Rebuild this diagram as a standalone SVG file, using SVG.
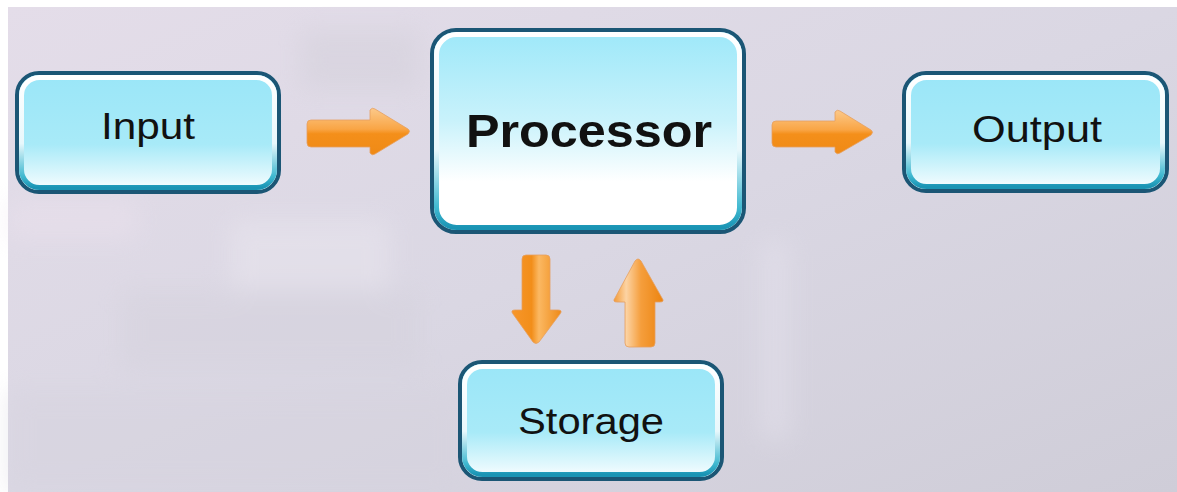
<svg xmlns="http://www.w3.org/2000/svg" width="1177" height="492" viewBox="0 0 1177 492">
<defs>
<linearGradient id="bg" x1="0" y1="0" x2="1" y2="1">
<stop offset="0" stop-color="#e4dde9"/>
<stop offset="0.5" stop-color="#dad7e3"/>
<stop offset="1" stop-color="#cfcdd8"/>
</linearGradient>
<linearGradient id="fillSmall" x1="0" y1="0" x2="0" y2="1">
<stop offset="0" stop-color="#9ae6f8"/>
<stop offset="0.6" stop-color="#a8eaf8"/>
<stop offset="0.9" stop-color="#e6f9fd"/>
<stop offset="1" stop-color="#ffffff"/>
</linearGradient>
<linearGradient id="fillBig" x1="0" y1="0" x2="0" y2="1">
<stop offset="0" stop-color="#9de8f9"/>
<stop offset="0.45" stop-color="#c9f2fb"/>
<stop offset="0.75" stop-color="#ffffff"/>
<stop offset="1" stop-color="#ffffff"/>
</linearGradient>
<linearGradient id="rim" x1="0" y1="0" x2="0" y2="1">
<stop offset="0" stop-color="#ffffff"/>
<stop offset="0.6" stop-color="#e8f8fc"/>
<stop offset="0.9" stop-color="#3fb8d0"/>
<stop offset="1" stop-color="#1a94b4"/>
</linearGradient>
<linearGradient id="orH" x1="0" y1="0" x2="0" y2="1">
<stop offset="0" stop-color="#fcc98a"/>
<stop offset="0.45" stop-color="#f9a545"/>
<stop offset="0.55" stop-color="#f48f1a"/>
<stop offset="1" stop-color="#ef8a16"/>
</linearGradient>
<linearGradient id="orV" x1="0" y1="0" x2="1" y2="0">
<stop offset="0" stop-color="#f7962a"/>
<stop offset="0.4" stop-color="#f28e1a"/>
<stop offset="0.55" stop-color="#fbb862"/>
<stop offset="1" stop-color="#ee8a18"/>
</linearGradient>
<linearGradient id="orU" x1="0" y1="0" x2="1" y2="0">
<stop offset="0" stop-color="#f39a36"/>
<stop offset="0.25" stop-color="#fcd3a3"/>
<stop offset="0.55" stop-color="#f59e3c"/>
<stop offset="1" stop-color="#ec8410"/>
</linearGradient>
<filter id="blur" x="-20%" y="-20%" width="140%" height="140%"><feGaussianBlur stdDeviation="12"/></filter>
</defs>
<style>
.frame{stroke:#1b5675;stroke-width:4}
.inner{fill:none;stroke:url(#rim);stroke-width:5}
.lbl{font-family:"Liberation Sans",Arial,sans-serif;fill:#111;text-anchor:middle}
.small{font-size:37px}
.big{font-size:47px;font-weight:bold}
.arr{stroke:#e6a060;stroke-width:0.8;stroke-linejoin:round}
</style>
<rect width="1177" height="492" fill="#ffffff"/>
<rect x="8" y="7" width="1169" height="485" fill="url(#bg)"/>
<g filter="url(#blur)" opacity="0.45">
<rect x="230" y="220" width="160" height="120" fill="#ebe8f0"/>
<rect x="8" y="200" width="130" height="40" fill="#ece2ee"/>
<rect x="120" y="290" width="300" height="80" fill="#d4d1dc"/>
<rect x="300" y="30" width="120" height="60" fill="#d2cfd9"/>
<rect x="760" y="240" width="30" height="200" fill="#e6e3ee"/>
<rect x="8" y="390" width="450" height="100" fill="#d6d3de"/>
</g>
<g id="connectors">
<path class="arr" fill="url(#orH)" d="M311,120 H370 V110 Q372,107 375,109 L408,129 Q411,131 408,134 L375,154 Q372,156 370,153 V147 H311 Q307,147 307,143 V124 Q307,120 311,120 Z"/>
<path class="arr" fill="url(#orH)" d="M776,121 H835 V112 Q837,109 840,111 L871,130 Q874,132 871,135 L840,153 Q837,155 835,152 V147 H776 Q772,147 772,143 V125 Q772,121 776,121 Z"/>
<path class="arr" fill="url(#orV)" d="M526,255 H546 Q550,255 550,259 V310 H558 Q563,310 560,314 L539,342 Q536,345 533,342 L513,314 Q510,310 515,310 H522 V259 Q522,255 526,255 Z"/>
<path class="arr" fill="url(#orU)" d="M629,347 H651 Q655,347 655,343 V302 H660 Q665,302 662,298 L641,261 Q638,257 635,261 L615,298 Q612,302 617,302 H625 V343 Q625,347 629,347 Z"/>
</g>
<g id="input">
<rect class="frame" x="17" y="73" width="262" height="119" rx="22" fill="url(#fillSmall)"/>
<rect class="inner" x="21.5" y="77.5" width="253" height="110" rx="18"/>
<text class="lbl small" x="148" y="139" textLength="94" lengthAdjust="spacingAndGlyphs">Input</text>
</g>
<g id="processor">
<rect class="frame" x="432" y="30" width="312" height="202" rx="24" fill="url(#fillBig)"/>
<rect class="inner" x="436.5" y="34.5" width="303" height="193" rx="20"/>
<text class="lbl big" x="589" y="147" textLength="246" lengthAdjust="spacingAndGlyphs">Processor</text>
</g>
<g id="output">
<rect class="frame" x="904" y="73" width="263" height="118" rx="22" fill="url(#fillSmall)"/>
<rect class="inner" x="908.5" y="77.5" width="254" height="109" rx="18"/>
<text class="lbl small" x="1037" y="142" textLength="130" lengthAdjust="spacingAndGlyphs">Output</text>
</g>
<g id="storage">
<rect class="frame" x="460" y="362" width="262" height="117" rx="22" fill="url(#fillSmall)"/>
<rect class="inner" x="464.5" y="366.5" width="253" height="108" rx="18"/>
<text class="lbl small" x="591" y="434" textLength="146" lengthAdjust="spacingAndGlyphs">Storage</text>
</g>
</svg>
